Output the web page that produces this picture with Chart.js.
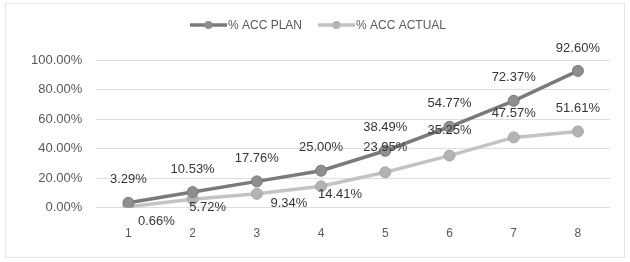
<!DOCTYPE html>
<html>
<head>
<meta charset="utf-8">
<script src="https://cdn.jsdelivr.net/npm/chart.js@4.4.0/dist/chart.umd.min.js"></script>
<style>
  html, body { margin: 0; padding: 0; background: #ffffff; }
  #wrap { position: relative; width: 630px; height: 262px; }
  #frame { position: absolute; left: 5px; top: 3px; width: 620px; height: 255px; border: 1px solid #e6e6e6; box-sizing: border-box; pointer-events: none; }
</style>
</head>
<body>
<div id="wrap">
  <canvas id="grafico" width="630" height="262"></canvas>
  <div id="frame"></div>
</div>
<script>
const periodos = ['1', '2', '3', '4', '5', '6', '7', '8'];
const accPlan = [3.29, 10.53, 17.76, 25.00, 38.49, 54.77, 72.37, 92.60];
const accActual = [0.66, 5.72, 9.34, 14.41, 23.95, 35.25, 47.57, 51.61];
const ticksY = [0, 20, 40, 60, 80, 100];

const colores = {
    planLinea: '#7a7a7a',
    planPunto: '#8e8e8e',
    actualLinea: '#c3c3c3',
    actualPunto: '#b3b3b3',
    actualBorde: '#a6a6a6',
    texto: '#363636',
    ejes: '#595959',
    grid: '#dedede'
};

// desplazamiento de etiquetas (como en el original)
const offsetsActual = [[28, 15], [15, 8], [32, 10], [19, 8], [0, -25], [0, -25], [0, -24], [0, -23]];

const etiquetasPlugin = {
    id: 'etiquetas',
    afterDatasetsDraw(chart) {
        const ctx = chart.ctx;
        ctx.save();
        ctx.font = '13px "Liberation Sans", Arial, sans-serif';
        ctx.fillStyle = colores.texto;
        ctx.textAlign = 'center';
        ctx.textBaseline = 'middle';
        chart.getDatasetMeta(0).data.forEach((p, i) => {
            ctx.fillText(accPlan[i].toFixed(2) + '%', p.x, p.y - 23);
        });
        chart.getDatasetMeta(1).data.forEach((p, i) => {
            const o = offsetsActual[i];
            ctx.fillText(accActual[i].toFixed(2) + '%', p.x + o[0], p.y + o[1]);
        });

        // leyenda con linea y marcador
        const items = [
            { texto: '% ACC PLAN', linea: colores.planLinea, punto: colores.planPunto, x: 190 },
            { texto: '% ACC ACTUAL', linea: colores.actualLinea, punto: colores.actualPunto, x: 318 }
        ];
        ctx.font = '12px "Liberation Sans", Arial, sans-serif';
        ctx.textAlign = 'left';
        items.forEach(it => {
            const y = 25;
            ctx.strokeStyle = it.linea;
            ctx.lineWidth = 3.5;
            ctx.beginPath();
            ctx.moveTo(it.x, y);
            ctx.lineTo(it.x + 37, y);
            ctx.stroke();
            ctx.fillStyle = it.punto;
            ctx.beginPath();
            ctx.arc(it.x + 18.5, y, 4, 0, Math.PI * 2);
            ctx.fill();
            ctx.fillStyle = colores.ejes;
            ctx.fillText(it.texto, it.x + 38, y + 1);
        });
        ctx.restore();
    }
};

new Chart(document.getElementById('grafico'), {
    type: 'line',
    data: {
        labels: periodos,
        datasets: [
            {
                label: '% ACC PLAN',
                data: accPlan,
                borderColor: colores.planLinea,
                backgroundColor: colores.planPunto,
                pointBackgroundColor: colores.planPunto,
                pointBorderColor: colores.planLinea,
                pointBorderWidth: 1,
                pointRadius: 5.5,
                borderWidth: 3.5,
                tension: 0
            },
            {
                label: '% ACC ACTUAL',
                data: accActual,
                borderColor: colores.actualLinea,
                backgroundColor: colores.actualPunto,
                pointBackgroundColor: colores.actualPunto,
                pointBorderColor: colores.actualBorde,
                pointBorderWidth: 1,
                pointRadius: 5.5,
                borderWidth: 3.5,
                tension: 0
            }
        ]
    },
    options: {
        responsive: false,
        animation: false,
        layout: {
            padding: { left: 17, right: 20, top: 60, bottom: 10 }
        },
        scales: {
            x: {
                offset: true,
                grid: { display: false },
                border: { display: false },
                ticks: {
                    color: colores.ejes,
                    font: { family: '"Liberation Sans", Arial, sans-serif', size: 12 },
                    padding: 11
                }
            },
            y: {
                min: 0,
                max: 100,
                afterBuildTicks: function(axis) {
                    axis.ticks = ticksY.map(v => ({ value: v }));
                },
                grid: { color: colores.grid, drawTicks: false },
                border: { display: false },
                ticks: {
                    color: colores.ejes,
                    font: { family: '"Liberation Sans", Arial, sans-serif', size: 13 },
                    padding: 14,
                    callback: function(value) {
                        return value.toFixed(2) + '%';
                    }
                }
            }
        },
        plugins: {
            legend: { display: false },
            tooltip: { enabled: false }
        }
    },
    plugins: [etiquetasPlugin]
});
</script>
</body>
</html>
